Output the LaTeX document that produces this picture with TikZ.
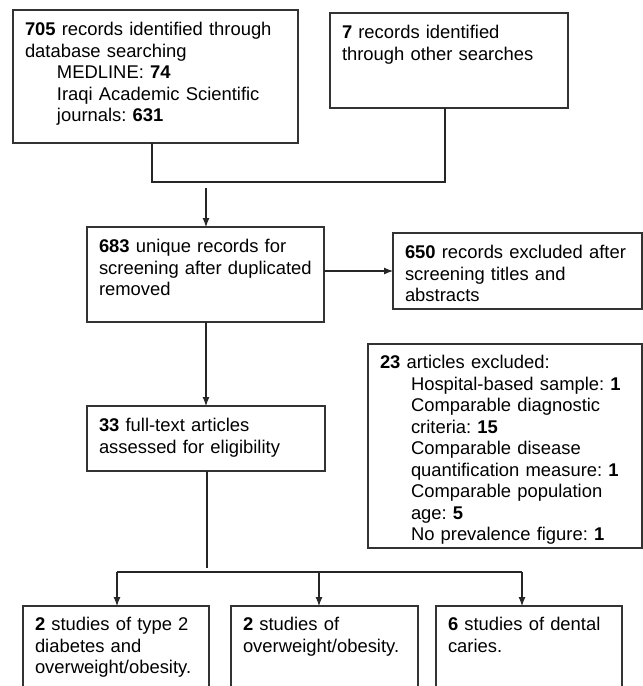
\documentclass[tikz,border=0pt]{standalone}
\usepackage{fontspec}
\setmainfont{Liberation Sans}
\usetikzlibrary{arrows.meta}

\begin{document}
\begin{tikzpicture}[x=1pt,y=-1pt,>={Latex[length=9pt,width=7pt]},
    box/.style={draw=black!80,line width=1.1pt,anchor=north west,align=left,
      inner xsep=12pt,inner ysep=12pt,outer sep=0pt,text height=13.5pt,
      font=\fontsize{18.4}{21.5}\selectfont\frenchspacing},
    link/.style={draw=black!85,line width=1.1pt}]
      \useasboundingbox (0,0) rectangle (643,686);
      \clip (0,0) rectangle (643,686);

      \node[box,text width=261pt,text depth=95.5pt] (search) at (13,10)
        {\textbf{705} records identified through\\database searching\\
         \hspace*{32pt}MEDLINE: \textbf{74}\\
         \hspace*{32pt}Iraqi Academic Scientific\\
         \hspace*{32pt}journals: \textbf{631}};
      \node[box,text width=214pt,text depth=57.5pt] (other) at (330,13)
        {\textbf{7} records identified\\through other searches};
      \node[box,text width=213pt,text depth=57.5pt] (unique) at (87,227)
        {\textbf{683} unique records for\\screening after duplicated\\removed};
      \node[box,text width=225pt,text depth=38.5pt] (screenout) at (393,233)
        {\textbf{650} records excluded after\\screening titles and\\abstracts};
      \node[box,text width=214pt,text depth=27.5pt] (fulltext) at (87,406)
        {\textbf{33} full-text articles\\assessed for eligibility};
      \node[box,text width=250pt,text depth=168.5pt,inner ysep=11pt] (fullout) at (368,344)
        {\textbf{23} articles excluded:\\
         \hspace*{31pt}Hospital-based sample: \textbf{1}\\
         \hspace*{31pt}Comparable diagnostic\\
         \hspace*{31pt}criteria: \textbf{15}\\
         \hspace*{31pt}Comparable disease\\
         \hspace*{31pt}quantification measure: \textbf{1}\\
         \hspace*{31pt}Comparable population\\
         \hspace*{31pt}age: \textbf{5}\\
         \hspace*{31pt}No prevalence figure: \textbf{1}};

      \node[box,text width=162pt,text depth=56.5pt,inner ysep=11pt] (diab) at (23,606)
        {\textbf{2} studies of type 2\\diabetes and\\overweight/obesity.};
      \node[box,text width=163pt,text depth=56.5pt,inner ysep=11pt] (obes) at (231,606)
        {\textbf{2} studies of\\overweight/obesity.};
      \node[box,text width=162pt,text depth=56.5pt,inner ysep=11pt] (caries) at (436,606)
        {\textbf{6} studies of dental\\caries.};

      \coordinate (ja) at (152,182);
      \coordinate (jb) at (445,182);
      \coordinate (jc) at (206,188);
      \draw[link] (ja |- search.south) -- (ja) -- (jb) -- (jb |- other.south);
      \draw[link,->] (jc) -- (jc |- unique.north);

      \draw[link,->] (unique.east |- screenout.west) -- (screenout.west);
      \draw[link,->] (fulltext.north |- unique.south) -- (fulltext.north);

      \coordinate (je) at (207,568);
      \coordinate (k1) at (117,572);
      \coordinate (k2) at (319,572);
      \coordinate (k3) at (522,572);
      \draw[link] (je |- fulltext.south) -- (je);
      \draw[link] (k1) -- (k3);
      \foreach \k/\b in {k1/diab,k2/obes,k3/caries}
        \draw[link,->] (\k) -- (\k |- \b.north);

    \end{tikzpicture}
\end{document}
